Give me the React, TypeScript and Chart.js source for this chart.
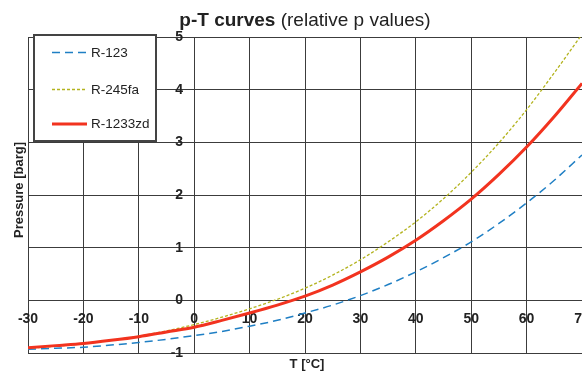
import React, { useEffect, useRef } from "react";
import { Chart, registerables } from "chart.js";

Chart.register(...registerables);

const temperatures = [-30, -25, -20, -15, -10, -5, 0, 5, 10, 15, 20, 25, 30, 35, 40, 45, 50, 55, 60, 65, 70];
const r123 = [-0.93, -0.91, -0.89, -0.85, -0.8, -0.74, -0.67, -0.59, -0.49, -0.38, -0.24, -0.09, 0.09, 0.3, 0.54, 0.81, 1.11, 1.46, 1.85, 2.28, 2.76];
const r245fa = [-0.91, -0.87, -0.82, -0.76, -0.68, -0.58, -0.46, -0.32, -0.16, 0.02, 0.23, 0.48, 0.77, 1.11, 1.49, 1.93, 2.43, 2.99, 3.62, 4.32, 5.05];
const r1233zd = [-0.9, -0.86, -0.82, -0.76, -0.69, -0.6, -0.51, -0.38, -0.24, -0.09, 0.08, 0.29, 0.54, 0.82, 1.14, 1.51, 1.92, 2.39, 2.91, 3.49, 4.12];
const seriesNames = ["R-123", "R-245fa", "R-1233zd"];
const titleBold = "p-T curves";
const titleNormal = " (relative p values)";
const xTitle = "T [°C]";
const yTitle = "Pressure [barg]";

const FONT = "'Liberation Sans', Arial, Helvetica, sans-serif";
const TEXT = "#222";
const GRID = "#3c3c3c";

const overlayPlugin = {
  id: "overlay",
  afterDraw(chart: any) {
    const ctx = chart.ctx;
    const area = chart.chartArea;
    ctx.save();
    // Title
    ctx.fillStyle = TEXT;
    ctx.textBaseline = "alphabetic";
    ctx.font = `bold 19px ${FONT}`;
    const wb = ctx.measureText(titleBold).width;
    ctx.font = `19px ${FONT}`;
    const wn = ctx.measureText(titleNormal).width;
    const cx = (area.left + area.right) / 2;
    const tx = cx - (wb + wn) / 2;
    ctx.textAlign = "left";
    ctx.font = `bold 19px ${FONT}`;
    ctx.fillText(titleBold, tx, 26);
    ctx.font = `19px ${FONT}`;
    ctx.fillText(titleNormal, tx + wb, 26);

    // Axis titles
    ctx.font = `bold 13px ${FONT}`;
    ctx.textAlign = "center";
    ctx.textBaseline = "middle";
    ctx.fillText(xTitle, cx + 2, 364);
    ctx.save();
    ctx.translate(19, (area.top + area.bottom) / 2 - 5);
    ctx.rotate(-Math.PI / 2);
    ctx.fillText(yTitle, 0, 0);
    ctx.restore();

    // Legend
    const lx = 34, ly = 35, lw = 122, lh = 106;
    ctx.fillStyle = "#fff";
    ctx.fillRect(lx, ly, lw, lh);
    ctx.strokeStyle = "#444";
    ctx.lineWidth = 2;
    ctx.strokeRect(lx, ly, lw, lh);
    const rows = [52.5, 89.5, 124];
    chart.data.datasets.forEach((ds: any, i: number) => {
      const y = rows[i];
      ctx.save();
      ctx.strokeStyle = ds.borderColor;
      ctx.lineWidth = ds.borderWidth;
      ctx.setLineDash(ds.borderDash || []);
      ctx.beginPath();
      ctx.moveTo(52, y);
      ctx.lineTo(87, y);
      ctx.stroke();
      ctx.restore();
      ctx.fillStyle = TEXT;
      ctx.font = `13.5px ${FONT}`;
      ctx.textAlign = "left";
      ctx.textBaseline = "middle";
      ctx.fillText(ds.label, 91, y + 0.5);
    });
    ctx.restore();
  },
};

export default function App() {
  const ref = useRef<HTMLCanvasElement | null>(null);
  useEffect(() => {
    if (!ref.current) return;
    const chart = new Chart(ref.current, {
      type: "line",
      data: {
        labels: temperatures,
        datasets: [
          {
            label: seriesNames[0],
            data: temperatures.map((t, i) => ({ x: t, y: r123[i] })),
            borderColor: "#1f7fc4",
            borderWidth: 1.5,
            borderDash: [8, 5],
            pointRadius: 0,
            cubicInterpolationMode: "monotone",
            order: 2,
          },
          {
            label: seriesNames[1],
            data: temperatures.map((t, i) => ({ x: t, y: r245fa[i] })),
            borderColor: "#b3b31e",
            borderWidth: 1.3,
            borderDash: [3, 2],
            pointRadius: 0,
            cubicInterpolationMode: "monotone",
            order: 1,
          },
          {
            label: seriesNames[2],
            data: temperatures.map((t, i) => ({ x: t, y: r1233zd[i] })),
            borderColor: "#f2331f",
            borderWidth: 3,
            pointRadius: 0,
            cubicInterpolationMode: "monotone",
            order: 0,
          },
        ],
      },
      options: {
        animation: false,
        responsive: false,
        layout: { padding: { left: 28, top: 37, right: 0, bottom: 18 } },
        plugins: {
          legend: { display: false },
          title: { display: false },
          tooltip: { enabled: false },
        },
        scales: {
          x: {
            type: "linear",
            position: { y: 0 } as any,
            min: -30,
            max: 70,
            afterFit: (s: any) => {
              s.paddingLeft = 0;
              s.paddingRight = 0;
            },
            ticks: {
              stepSize: 10,
              autoSkip: false,
              maxRotation: 0,
              padding: 10,
              color: TEXT,
              font: { family: FONT, size: 14, weight: "bold" },
            },
            grid: { color: GRID, lineWidth: 1, drawTicks: false },
            border: { display: false },
          },
          y: {
            type: "linear",
            position: { x: -2 } as any,
            min: -1,
            max: 5,
            afterFit: (s: any) => {
              s.paddingTop = 0;
              s.paddingBottom = 0;
            },
            ticks: {
              stepSize: 1,
              autoSkip: false,
              padding: 0,
              color: TEXT,
              font: { family: FONT, size: 14, weight: "bold" },
            },
            grid: { color: GRID, lineWidth: 1, drawTicks: false },
            border: { display: false },
          },
        },
      },
      plugins: [overlayPlugin],
    } as any);
    return () => chart.destroy();
  }, []);
  return (
    <div style={{ position: "fixed", left: 0, top: 0, width: 582, height: 371, background: "#fff" }}>
      <canvas ref={ref} width={582} height={371} style={{ display: "block" }} />
    </div>
  );
}
